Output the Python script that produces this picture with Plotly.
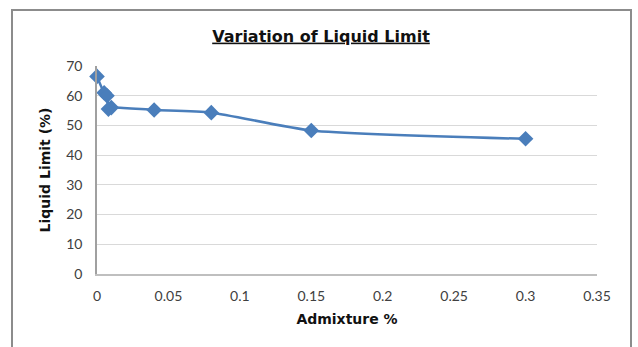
import plotly.graph_objects as go

admixture = [0, 0.005, 0.007, 0.008, 0.01, 0.04, 0.08, 0.15, 0.3]
liquid_limit = [66.5, 61, 60, 55.5, 56, 55.2, 54.3, 48.3, 45.5]
x_ticks = [0, 0.05, 0.1, 0.15, 0.2, 0.25, 0.3, 0.35]
x_tick_text = ["0", "0.05", "0.1", "0.15", "0.2", "0.25", "0.3", "0.35"]
y_ticks = [0, 10, 20, 30, 40, 50, 60, 70]

W, H = 638, 347
ml, mr, mt, mb = 97, 41, 66, 73
pw, ph = W - ml - mr, H - mt - mb

def px_x(p):
    return (p - ml) / pw

def px_y(p):
    return (H - mb - p) / ph

fig = go.Figure()
fig.add_trace(go.Scatter(
    x=admixture, y=liquid_limit, mode="lines+markers",
    line=dict(color="#4A7EBB", width=2.5, shape="spline", smoothing=0.6),
    marker=dict(symbol="diamond", size=12, color="#4A7EBB"),
    cliponaxis=False,
    showlegend=False,
))

tick_font = dict(family="Lato, Liberation Sans, sans-serif", size=14, color="#404040")
title_font = dict(family="DejaVu Sans, sans-serif", size=14, color="#111111")

fig.update_layout(
    width=W, height=H,
    margin=dict(l=ml, r=mr, t=mt, b=mb),
    paper_bgcolor="white", plot_bgcolor="white",
    title=dict(text="<b><u>Variation of Liquid Limit</u></b>",
               x=px_x(321), xref="paper", xanchor="center",
               y=1 - 36 / H, yanchor="middle",
               font=dict(family="DejaVu Sans, sans-serif", size=16, color="#111111")),
    xaxis=dict(range=[0, 0.35], tickvals=x_ticks, ticktext=x_tick_text,
               showgrid=False, zeroline=False, showline=True,
               linecolor="#bfbfbf", linewidth=1.5, ticks="",
               tickfont=tick_font, ticklabelstandoff=8,
               title=dict(text="<b>Admixture %</b>", font=title_font, standoff=12)),
    yaxis=dict(range=[0, 70], tickvals=y_ticks,
               showgrid=True, gridcolor="#d9d9d9", gridwidth=1,
               zeroline=False, showline=True, linecolor="#a0a0a0", linewidth=1.5,
               ticks="", tickfont=tick_font, ticklabelstandoff=10,
               title=dict(text="<b>Liquid Limit (%)</b>", font=title_font, standoff=12)),
    shapes=[dict(type="rect", xref="paper", yref="paper",
                 x0=px_x(12), x1=px_x(631), y0=px_y(360), y1=px_y(10),
                 line=dict(color="#8c8c8c", width=2), layer="below")],
)

fig.write_html("out.html")
